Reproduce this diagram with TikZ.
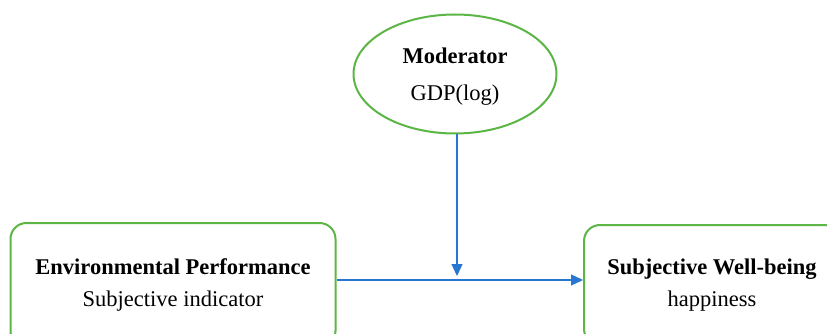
\documentclass[tikz,border=0pt]{standalone}
\usepackage{fontspec}
\setmainfont{Liberation Serif}
\usetikzlibrary{arrows.meta,shapes.geometric}
\definecolor{boxgreen}{RGB}{92,182,70}
\definecolor{arrowblue}{RGB}{38,118,210}
\tikzset{
  varbox/.style={draw=boxgreen, line width=2pt, rounded corners=16pt, align=center,
    font=\fontsize{22.5}{32}\selectfont},
  modell/.style={draw=boxgreen, line width=2pt, ellipse, inner sep=0pt},
  modtext/.style={align=center, font=\fontsize{22.5}{37}\selectfont},
  link/.style={draw=arrowblue, line width=1.3pt, -{Triangle[length=12pt,width=11pt]}}
}
\begin{document}
\begin{tikzpicture}[x=1pt,y=-1pt]
\clip (0,0) rectangle (827,334);
\fill[white] (0,0) rectangle (827,334);

\node[modell, minimum width=203pt, minimum height=119pt] (mod) at (455,74) {};
\node[modtext] (modlbl) at ([yshift=-3pt]mod.center)
  {\textbf{Moderator}\\GDP(log)};

\node[varbox, minimum width=325pt, minimum height=124pt] (env) at (173,285)
  {\textbf{Environmental Performance}\\Subjective indicator};
\node[varbox, minimum width=256pt, minimum height=120pt] (swb) at (712,285)
  {\textbf{Subjective Well-being}\\happiness};

\coordinate (meet) at (457,276);

\draw[link] ([yshift=5pt]env.east) -- ([yshift=5pt]swb.west);
\draw[link] (mod.south -| meet) -- (meet);

\end{tikzpicture}
\end{document}
